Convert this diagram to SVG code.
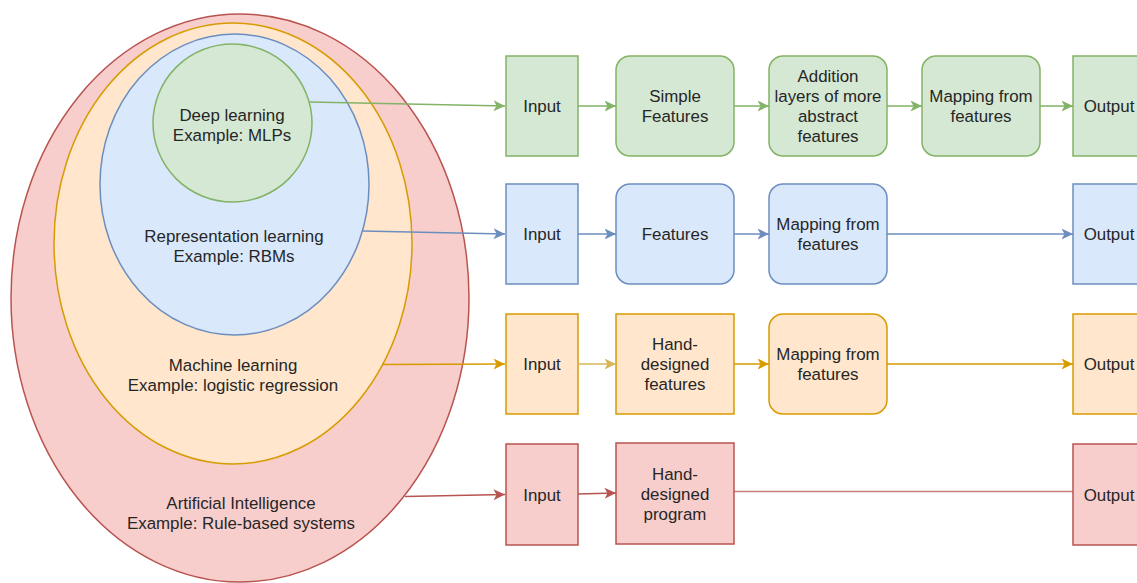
<svg xmlns="http://www.w3.org/2000/svg" width="1137" height="583" viewBox="0 0 1137 583">
  <style>
    text { font-family: "Liberation Sans", Arial, Helvetica, sans-serif; font-size: 16.9px; fill: #262626; text-anchor: middle; }
    .g { fill: #d5e8d4; stroke: #82b366; stroke-width: 1.5; }
    .b { fill: #dae8fc; stroke: #6c8ebf; stroke-width: 1.5; }
    .o { fill: #ffe6cc; stroke: #d79b00; stroke-width: 1.5; }
    .r { fill: #f8cecc; stroke: #b85450; stroke-width: 1.5; }
    .edge { fill: none; stroke-width: 1.5; }
  </style>
  <defs>
    <marker id="ag" markerUnits="userSpaceOnUse" markerWidth="14" markerHeight="12" refX="11.5" refY="5.5" orient="auto">
      <path d="M0,0 L11.5,5.5 L0,11 L3,5.5 Z" fill="#82b366"/>
    </marker>
    <marker id="ab" markerUnits="userSpaceOnUse" markerWidth="14" markerHeight="12" refX="11.5" refY="5.5" orient="auto">
      <path d="M0,0 L11.5,5.5 L0,11 L3,5.5 Z" fill="#6c8ebf"/>
    </marker>
    <marker id="ao" markerUnits="userSpaceOnUse" markerWidth="14" markerHeight="12" refX="11.5" refY="5.5" orient="auto">
      <path d="M0,0 L11.5,5.5 L0,11 L3,5.5 Z" fill="#d79b00"/>
    </marker>
    <marker id="ay" markerUnits="userSpaceOnUse" markerWidth="14" markerHeight="12" refX="11.5" refY="5.5" orient="auto">
      <path d="M0,0 L11.5,5.5 L0,11 L3,5.5 Z" fill="#d6b656"/>
    </marker>
    <marker id="ar" markerUnits="userSpaceOnUse" markerWidth="14" markerHeight="12" refX="11.5" refY="5.5" orient="auto">
      <path d="M0,0 L11.5,5.5 L0,11 L3,5.5 Z" fill="#b85450"/>
    </marker>
  </defs>

  <!-- nested fields -->
  <g id="ai">
    <ellipse class="r" cx="240" cy="298" rx="229" ry="284"/>
    <text x="241" y="508.5">Artificial Intelligence</text>
    <text x="241" y="528.5">Example: Rule-based systems</text>
  </g>
  <g id="ml">
    <ellipse class="o" cx="233" cy="243.5" rx="179" ry="220.5"/>
    <text x="233" y="370.5">Machine learning</text>
    <text x="233" y="390.5">Example: logistic regression</text>
  </g>
  <g id="rl">
    <ellipse class="b" cx="234.5" cy="184.5" rx="134.5" ry="150.5"/>
    <text x="234" y="241.5">Representation learning</text>
    <text x="234" y="261.5">Example: RBMs</text>
  </g>
  <g id="dl">
    <ellipse class="g" cx="232.5" cy="123" rx="79.5" ry="79"/>
    <text x="232" y="120.5">Deep learning</text>
    <text x="232" y="140.5">Example: MLPs</text>
  </g>

  <!-- deep learning pipeline -->
  <g id="dl-input"><rect class="g" x="506" y="56" width="72" height="100"/><text x="542" y="112">Input</text></g>
  <g id="dl-simple"><rect class="g" x="616" y="56" width="118" height="100" rx="14"/><text x="675" y="102">Simple</text><text x="675" y="122">Features</text></g>
  <g id="dl-abstract"><rect class="g" x="769" y="56" width="118" height="100" rx="14"/><text x="828" y="82">Addition</text><text x="828" y="102">layers of more</text><text x="828" y="122">abstract</text><text x="828" y="142">features</text></g>
  <g id="dl-mapping"><rect class="g" x="922" y="56" width="118" height="100" rx="14"/><text x="981" y="102">Mapping from</text><text x="981" y="122">features</text></g>
  <g id="dl-output"><rect class="g" x="1073" y="56" width="72" height="100"/><text x="1109" y="112">Output</text></g>

  <!-- representation learning pipeline -->
  <g id="rl-input"><rect class="b" x="506" y="184" width="72" height="100"/><text x="542" y="240">Input</text></g>
  <g id="rl-features"><rect class="b" x="616" y="184" width="118" height="100" rx="14"/><text x="675" y="240">Features</text></g>
  <g id="rl-mapping"><rect class="b" x="769" y="184" width="118" height="100" rx="14"/><text x="828" y="230">Mapping from</text><text x="828" y="250">features</text></g>
  <g id="rl-output"><rect class="b" x="1073" y="184" width="72" height="100"/><text x="1109" y="240">Output</text></g>

  <!-- machine learning pipeline -->
  <g id="ml-input"><rect class="o" x="506" y="314" width="72" height="100"/><text x="542" y="370">Input</text></g>
  <g id="ml-features"><rect class="o" x="616" y="314" width="118" height="100"/><text x="675" y="350">Hand-</text><text x="675" y="370">designed</text><text x="675" y="390">features</text></g>
  <g id="ml-mapping"><rect class="o" x="769" y="314" width="118" height="100" rx="14"/><text x="828" y="360">Mapping from</text><text x="828" y="380">features</text></g>
  <g id="ml-output"><rect class="o" x="1073" y="314" width="72" height="100"/><text x="1109" y="370">Output</text></g>

  <!-- rule-based pipeline -->
  <g id="ai-input"><rect class="r" x="506" y="444" width="72" height="101"/><text x="542" y="500.5">Input</text></g>
  <g id="ai-program"><rect class="r" x="616" y="443" width="118" height="101"/><text x="675" y="479.5">Hand-</text><text x="675" y="499.5">designed</text><text x="675" y="519.5">program</text></g>
  <g id="ai-output"><rect class="r" x="1073" y="444" width="72" height="101"/><text x="1109" y="500.5">Output</text></g>

  <g id="connectors">
    <g stroke="#82b366" class="edge" marker-end="url(#ag)">
      <path class="edge" d="M310,102 L505,106"/>
      <path class="edge" d="M578,106 L616,106"/>
      <path class="edge" d="M734,106 L769,106"/>
      <path class="edge" d="M887,106 L922,106"/>
      <path class="edge" d="M1040,106 L1073,106"/>
    </g>
    <g stroke="#6c8ebf" class="edge" marker-end="url(#ab)">
      <path class="edge" d="M362,231 L505,234"/>
      <path class="edge" d="M578,234 L616,234"/>
      <path class="edge" d="M734,234 L769,234"/>
      <path class="edge" d="M887,234 L1073,234"/>
    </g>
    <g stroke="#d79b00" class="edge" marker-end="url(#ao)">
      <path class="edge" d="M382,364.5 L505,364"/>
      <path class="edge" d="M734,364 L769,364"/>
      <path class="edge" d="M887,364 L1073,364"/>
    </g>
    <path class="edge" stroke="#d6b656" marker-end="url(#ay)" d="M578,364 L616,364"/>
    <g stroke="#b85450" class="edge" marker-end="url(#ar)">
      <path class="edge" d="M405,496.5 L505,494.5"/>
      <path class="edge" d="M578,494 L616,493"/>
    </g>
    <path class="edge" stroke="#b85450" stroke-opacity="0.75" d="M734,491.5 L1073,491.5"/>
  </g>
</svg>
